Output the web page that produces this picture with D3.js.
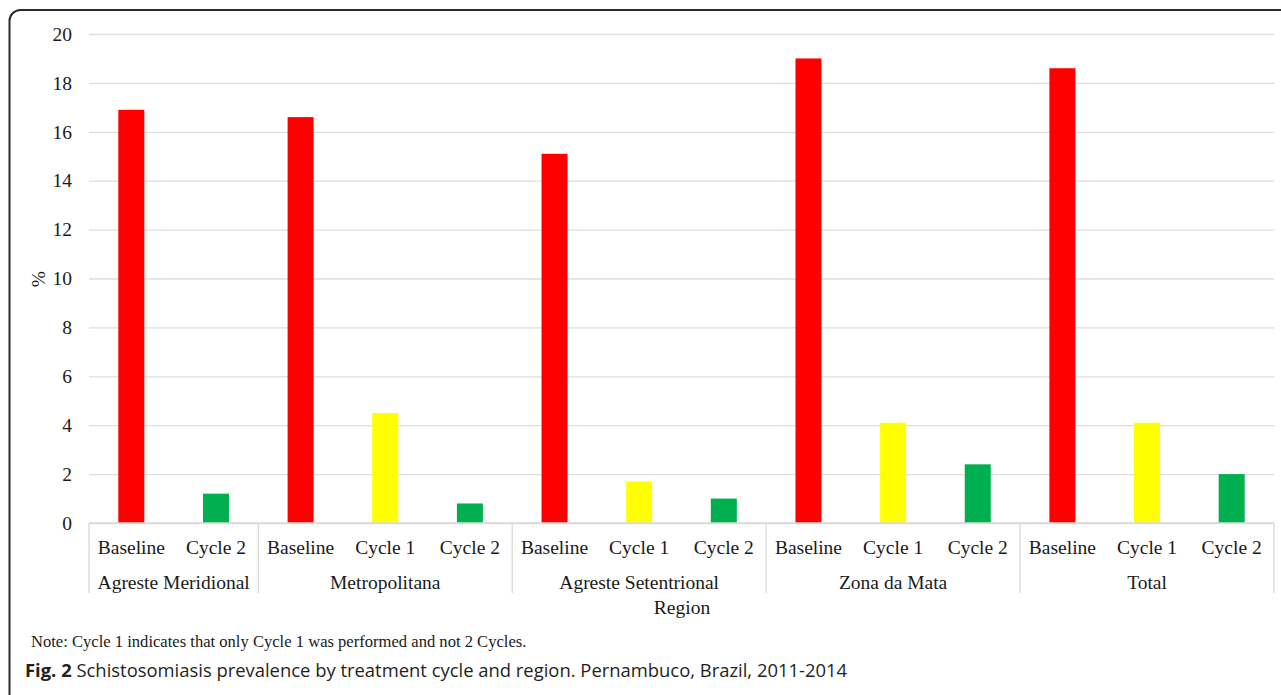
<!DOCTYPE html>
<html>
<head>
<meta charset="utf-8">
<script src="https://cdn.jsdelivr.net/npm/d3@7"></script>
<style>
  html, body { margin: 0; padding: 0; background: #fff; }
  svg { display: block; }
</style>
</head>
<body>
<svg id="chart" width="1281" height="695"></svg>
<script>
// ---- Data ----
const regions = ["Agreste Meridional", "Metropolitana", "Agreste Setentrional", "Zona da Mata", "Total"];
const cycleLabels = [
  ["Baseline", "Cycle 2"],
  ["Baseline", "Cycle 1", "Cycle 2"],
  ["Baseline", "Cycle 1", "Cycle 2"],
  ["Baseline", "Cycle 1", "Cycle 2"],
  ["Baseline", "Cycle 1", "Cycle 2"]
];
const prevalence = [
  [16.9, 1.2],
  [16.6, 4.5, 0.8],
  [15.1, 1.7, 1.0],
  [19.0, 4.1, 2.4],
  [18.6, 4.1, 2.0]
];
const yTicks = [0, 2, 4, 6, 8, 10, 12, 14, 16, 18, 20];
const cycleNames = ["Baseline", "Cycle 1", "Cycle 2"];
const cycleColors = ["#FF0000", "#FFFF00", "#00B050"];
const yAxisTitle = "%";
const xAxisTitle = "Region";
const noteText = "Note: Cycle 1 indicates that only Cycle 1 was performed and not 2 Cycles.";
const figLabel = "Fig. 2";
const figCaption = " Schistosomiasis prevalence by treatment cycle and region. Pernambuco, Brazil, 2011-2014";

(function () {
const rows = [];
regions.forEach((r, i) => {
  cycleLabels[i].forEach((c, j) => {
    rows.push({ key: r + "|" + c, region: r, regionIndex: i, cycle: c, value: prevalence[i][j] });
  });
});

const svg = d3.select("#chart");
const serif = "'Liberation Serif', 'Times New Roman', serif";
const sans = "'Open Sans', 'Noto Sans', sans-serif";

// Frame (rounded, running off right and bottom)
svg.append("rect")
  .attr("x", 9.5).attr("y", 10)
  .attr("width", 1320).attr("height", 740)
  .attr("rx", 11).attr("ry", 11)
  .attr("fill", "none")
  .attr("stroke", "#2b2b2b")
  .attr("stroke-width", 2);

const pLeft = 89, pRight = 1274, pTop = 34, pBottom = 523;

const x = d3.scaleBand().domain(rows.map(d => d.key)).range([pLeft, pRight]).paddingInner(0).paddingOuter(0);
const y = d3.scaleLinear().domain([0, 20]).range([pBottom, pTop]);
const color = d3.scaleOrdinal().domain(cycleNames).range(cycleColors);

// Gridlines
const grid = svg.append("g").attr("transform", `translate(${pLeft},0)`)
  .call(d3.axisLeft(y).tickValues(yTicks).tickSize(-(pRight - pLeft)).tickFormat(""));
grid.select(".domain").remove();
grid.selectAll(".tick line").attr("stroke", "#dedede").attr("stroke-width", 1.3);

// Y tick labels
const yAxis = svg.append("g").attr("transform", `translate(${pLeft},0)`)
  .call(d3.axisLeft(y).tickValues(yTicks).tickSize(0).tickPadding(17).tickFormat(d3.format("d")));
yAxis.select(".domain").remove();
yAxis.selectAll("text").attr("font-family", serif).attr("font-size", 19.5).attr("fill", "#1a1a1a");

// Bars
const barW = 26;
svg.append("g").selectAll("rect").data(rows).join("rect")
  .attr("x", d => x(d.key) + x.bandwidth() / 2 - barW / 2)
  .attr("y", d => y(d.value))
  .attr("width", barW)
  .attr("height", d => y(0) - y(d.value))
  .attr("fill", d => color(d.cycle));

// Category axis (multi-level)
const catG = svg.append("g");
const sepBottom = 593;
catG.append("line").attr("x1", pLeft).attr("x2", pRight).attr("y1", pBottom).attr("y2", pBottom)
  .attr("stroke", "#d9d9d9").attr("stroke-width", 1.3);

const groupBounds = regions.map((r, i) => {
  const keys = rows.filter(d => d.regionIndex === i).map(d => d.key);
  return { region: r, x0: x(keys[0]), x1: x(keys[keys.length - 1]) + x.bandwidth() };
});
const sepXs = [groupBounds[0].x0].concat(groupBounds.map(g => g.x1));
catG.selectAll("line.sep").data(sepXs).join("line")
  .attr("class", "sep")
  .attr("x1", d => d).attr("x2", d => d)
  .attr("y1", pBottom).attr("y2", sepBottom)
  .attr("stroke", "#d9d9d9").attr("stroke-width", 1.3);

catG.selectAll("text.cyc").data(rows).join("text")
  .attr("class", "cyc")
  .attr("x", d => x(d.key) + x.bandwidth() / 2)
  .attr("y", 554)
  .attr("text-anchor", "middle")
  .attr("font-family", serif).attr("font-size", 19.5).attr("fill", "#1a1a1a")
  .text(d => d.cycle);

catG.selectAll("text.reg").data(groupBounds).join("text")
  .attr("class", "reg")
  .attr("x", d => (d.x0 + d.x1) / 2)
  .attr("y", 588.5)
  .attr("text-anchor", "middle")
  .attr("font-family", serif).attr("font-size", 19.5).attr("fill", "#1a1a1a")
  .text(d => d.region);

svg.append("text")
  .attr("x", 682).attr("y", 614)
  .attr("text-anchor", "middle")
  .attr("font-family", serif).attr("font-size", 19.5).attr("fill", "#1a1a1a")
  .text(xAxisTitle);

svg.append("text")
  .attr("transform", "translate(45,279) rotate(-90)")
  .attr("text-anchor", "middle")
  .attr("font-family", serif).attr("font-size", 19.5).attr("fill", "#1a1a1a")
  .text(yAxisTitle);

const note = svg.append("text")
  .attr("x", 31).attr("y", 647)
  .attr("font-family", serif).attr("font-size", 16).attr("fill", "#1a1a1a")
  .text(noteText);
{
  const w = note.node().getComputedTextLength();
  note.attr("font-size", 16 * (527 - 31) / w);
}

const cap = svg.append("text")
  .attr("x", 25).attr("y", 677)
  .attr("font-family", sans).attr("font-size", 18).attr("fill", "#231f20");
cap.append("tspan").attr("font-weight", "bold").text(figLabel);
cap.append("tspan").text(figCaption);
{
  const w = cap.node().getComputedTextLength();
  cap.attr("font-size", 18 * (848 - 25) / w);
}
})();
</script>
</body>
</html>
